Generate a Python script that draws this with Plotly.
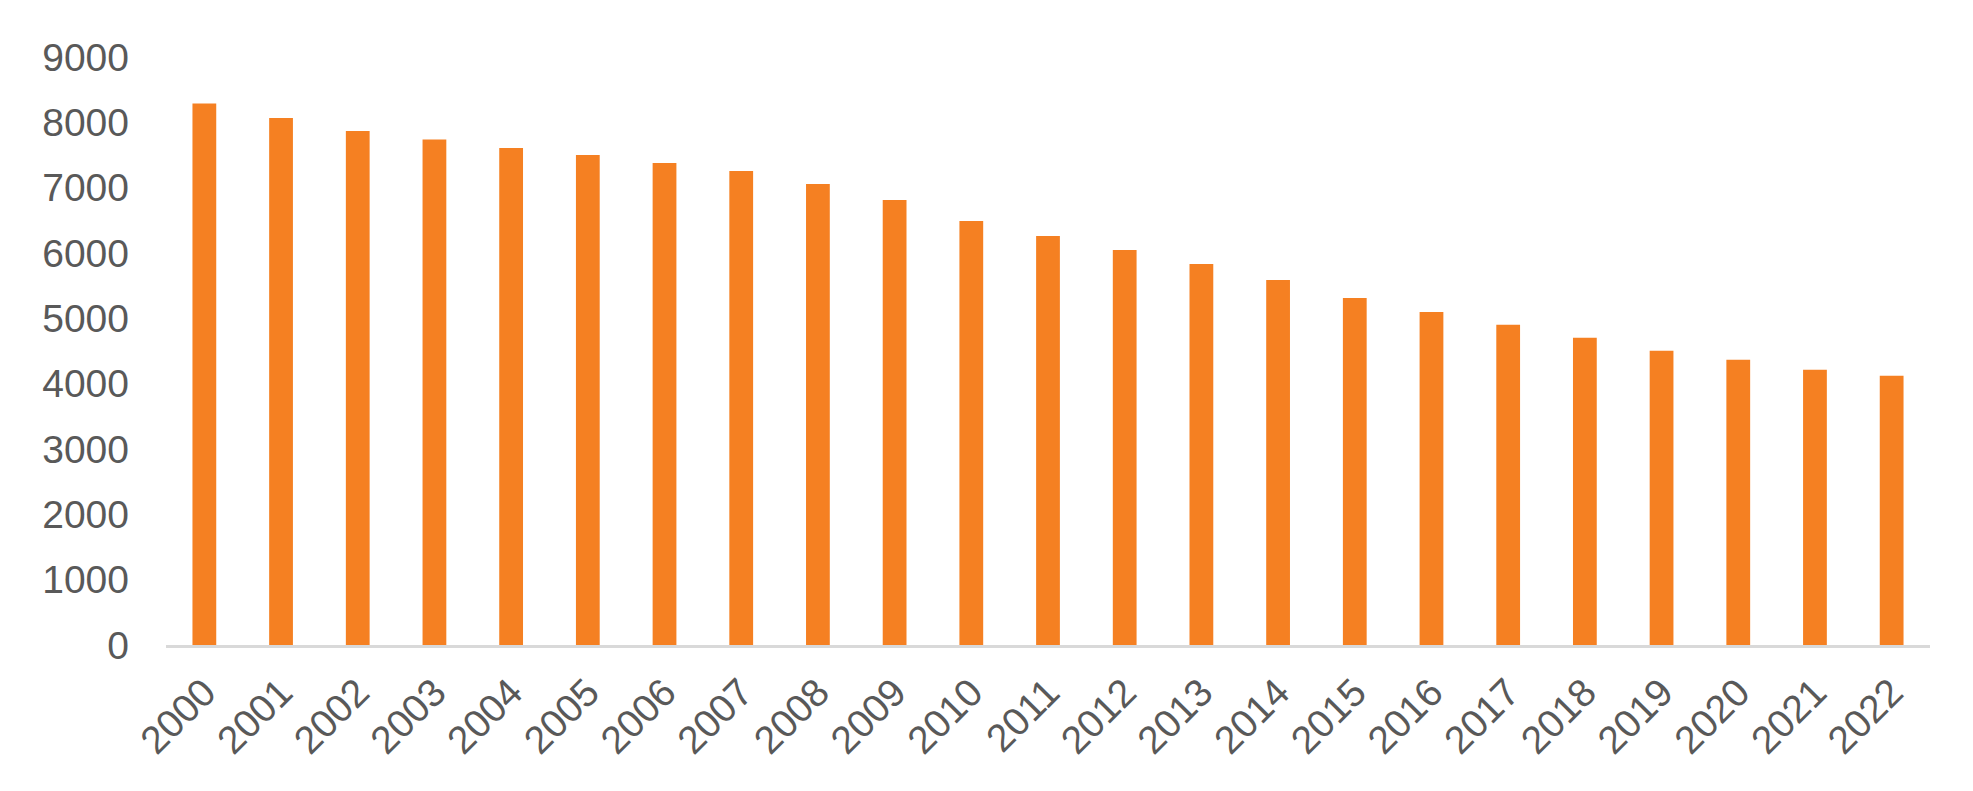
import plotly.graph_objects as go

# --- data ---
years = [str(y) for y in range(2000, 2023)]
values = [8288, 8065, 7866, 7737, 7606, 7499, 7376, 7254, 7055, 6810,
          6489, 6260, 6046, 5831, 5587, 5311, 5097, 4903, 4704, 4505,
          4367, 4214, 4123]
y_ticks = [0, 1000, 2000, 3000, 4000, 5000, 6000, 7000, 8000, 9000]

fig = go.Figure()

fig.add_trace(go.Bar(
    x=years,
    y=values,
    marker=dict(color='#F58022', line=dict(width=0)),
    hoverinfo='x+y'
))

fig.update_layout(
    width=1973,
    height=791,
    margin=dict(l=158, r=51, t=49, b=154),
    plot_bgcolor='white',
    paper_bgcolor='white',
    bargap=0.69,
    showlegend=False,
    font=dict(family="Liberation Sans, Arial, sans-serif", size=39, color='#595959'),
    xaxis=dict(
        type='category',
        tickangle=-45,
        showline=True,
        linecolor='#D9D9D9',
        linewidth=2.5,
        showgrid=False,
        ticks='',
        ticklabelstandoff=6,
        tickfont=dict(size=39, color='#595959')
    ),
    yaxis=dict(
        range=[0, 9000],
        tickvals=y_ticks,
        showgrid=False,
        zeroline=False,
        showline=False,
        ticks='',
        ticklabelstandoff=36,
        tickfont=dict(size=39, color='#595959')
    )
)

fig.write_html("out.html")
